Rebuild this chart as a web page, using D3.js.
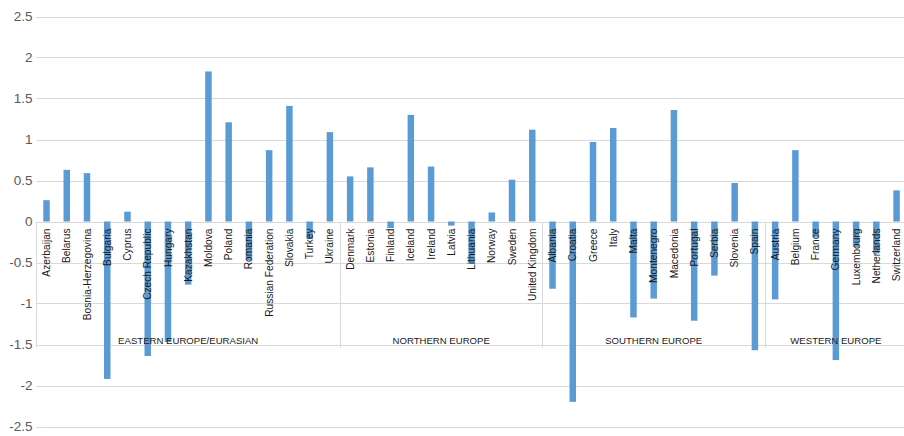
<!DOCTYPE html>
<html>
<head>
<meta charset="utf-8">
<script src="https://cdn.jsdelivr.net/npm/d3@7"></script>
<style>
  html, body { margin: 0; padding: 0; background: #fff; }
  svg { display: block; font-family: "Liberation Sans", Arial, sans-serif; }
</style>
</head>
<body>
<svg id="chart" width="904" height="436"></svg>
<script>
// Countries, grouped by region (in order)
const countries = [
  "Azerbaijan", "Belarus", "Bosnia-Herzegovina", "Bulgaria", "Cyprus", "Czech Republic",
  "Hungary", "Kazakhstan", "Moldova", "Poland", "Romania", "Russian Federation",
  "Slovakia", "Turkey", "Ukraine",
  "Denmark", "Estonia", "Finland", "Iceland", "Ireland", "Latvia", "Lithuania",
  "Norway", "Sweden", "United Kingdom",
  "Albania", "Croatia", "Greece", "Italy", "Malta", "Montenegro", "Macedonia",
  "Portugal", "Serbia", "Slovenia", "Spain",
  "Austria", "Belgium", "France", "Germany", "Luxembourg", "Netherlands", "Switzerland"
];

const scores = [
  0.26, 0.63, 0.59, -1.92, 0.12, -1.64,
  -1.47, -0.77, 1.83, 1.21, -0.47, 0.87,
  1.41, -0.21, 1.09,
  0.55, 0.66, -0.08, 1.30, 0.67, -0.05, -0.51,
  0.11, 0.51, 1.12,
  -0.82, -2.20, 0.97, 1.14, -1.17, -0.94, 1.36,
  -1.21, -0.66, 0.47, -1.57,
  -0.95, 0.87, -0.19, -1.69, -0.31, -0.39, 0.38
];

const regions = ["EASTERN EUROPE/EURASIAN", "NORTHERN EUROPE", "SOUTHERN EUROPE", "WESTERN EUROPE"];
const regionSizes = [15, 10, 11, 7];

const yTicks = [2.5, 2, 1.5, 1, 0.5, 0, -0.5, -1, -1.5, -2, -2.5];

const svg = d3.select("#chart");
const W = 904;

const x = d3.scaleBand()
  .domain(countries)
  .range([36.4, 906.7])
  .paddingInner(0.68)
  .paddingOuter(0.34);

const y = d3.scaleLinear().domain([-2.5, 2.5]).range([426.5, 16.5]);

// Horizontal gridlines
svg.append("g")
  .selectAll("line")
  .data(yTicks)
  .join("line")
  .attr("x1", x.range()[0])
  .attr("x2", W)
  .attr("y1", d => Math.round(y(d)) + 0.5)
  .attr("y2", d => Math.round(y(d)) + 0.5)
  .attr("stroke", "#d9d9d9")
  .attr("stroke-width", 1);

// Value axis labels
svg.append("g")
  .selectAll("text")
  .data(yTicks)
  .join("text")
  .attr("x", 32.5)
  .attr("y", d => y(d))
  .attr("dy", "0.35em")
  .attr("text-anchor", "end")
  .attr("font-size", 13.5)
  .attr("fill", "#595959")
  .text(d => String(d));

// Bars
svg.append("g")
  .selectAll("rect")
  .data(countries.map((c, i) => ({ c, v: scores[i] })))
  .join("rect")
  .attr("x", d => x(d.c))
  .attr("width", x.bandwidth())
  .attr("y", d => y(Math.max(0, d.v)))
  .attr("height", d => Math.abs(y(d.v) - y(0)))
  .attr("fill", "#5b9bd5");

// Region separators on the category axis
const step = x.step();
const x0 = x.range()[0];
const bounds = [0];
regionSizes.forEach((n, i) => bounds.push(bounds[i] + n));
const yZero = Math.round(y(0)) + 0.5;
svg.append("g")
  .selectAll("line")
  .data(bounds)
  .join("line")
  .attr("x1", d => Math.round(x0 + d * step) + 0.5)
  .attr("x2", d => Math.round(x0 + d * step) + 0.5)
  .attr("y1", yZero)
  .attr("y2", 348)
  .attr("stroke", "#d9d9d9")
  .attr("stroke-width", 1);

// Country labels, rotated under the zero line
svg.append("g")
  .selectAll("text")
  .data(countries)
  .join("text")
  .attr("transform", d => `translate(${x(d) + x.bandwidth() / 2},${y(0) + 7}) rotate(-90)`)
  .attr("text-anchor", "end")
  .attr("dy", "0.35em")
  .attr("font-size", 10.2)
  .attr("fill", "#1a1a1a")
  .text(d => d);

// Region labels
svg.append("g")
  .selectAll("text")
  .data(regions)
  .join("text")
  .attr("x", (d, i) => x0 + (bounds[i] + bounds[i + 1]) / 2 * step)
  .attr("y", 344)
  .attr("text-anchor", "middle")
  .attr("font-size", 9.6)
  .attr("fill", "#1a1a1a")
  .text(d => d);
</script>
</body>
</html>
